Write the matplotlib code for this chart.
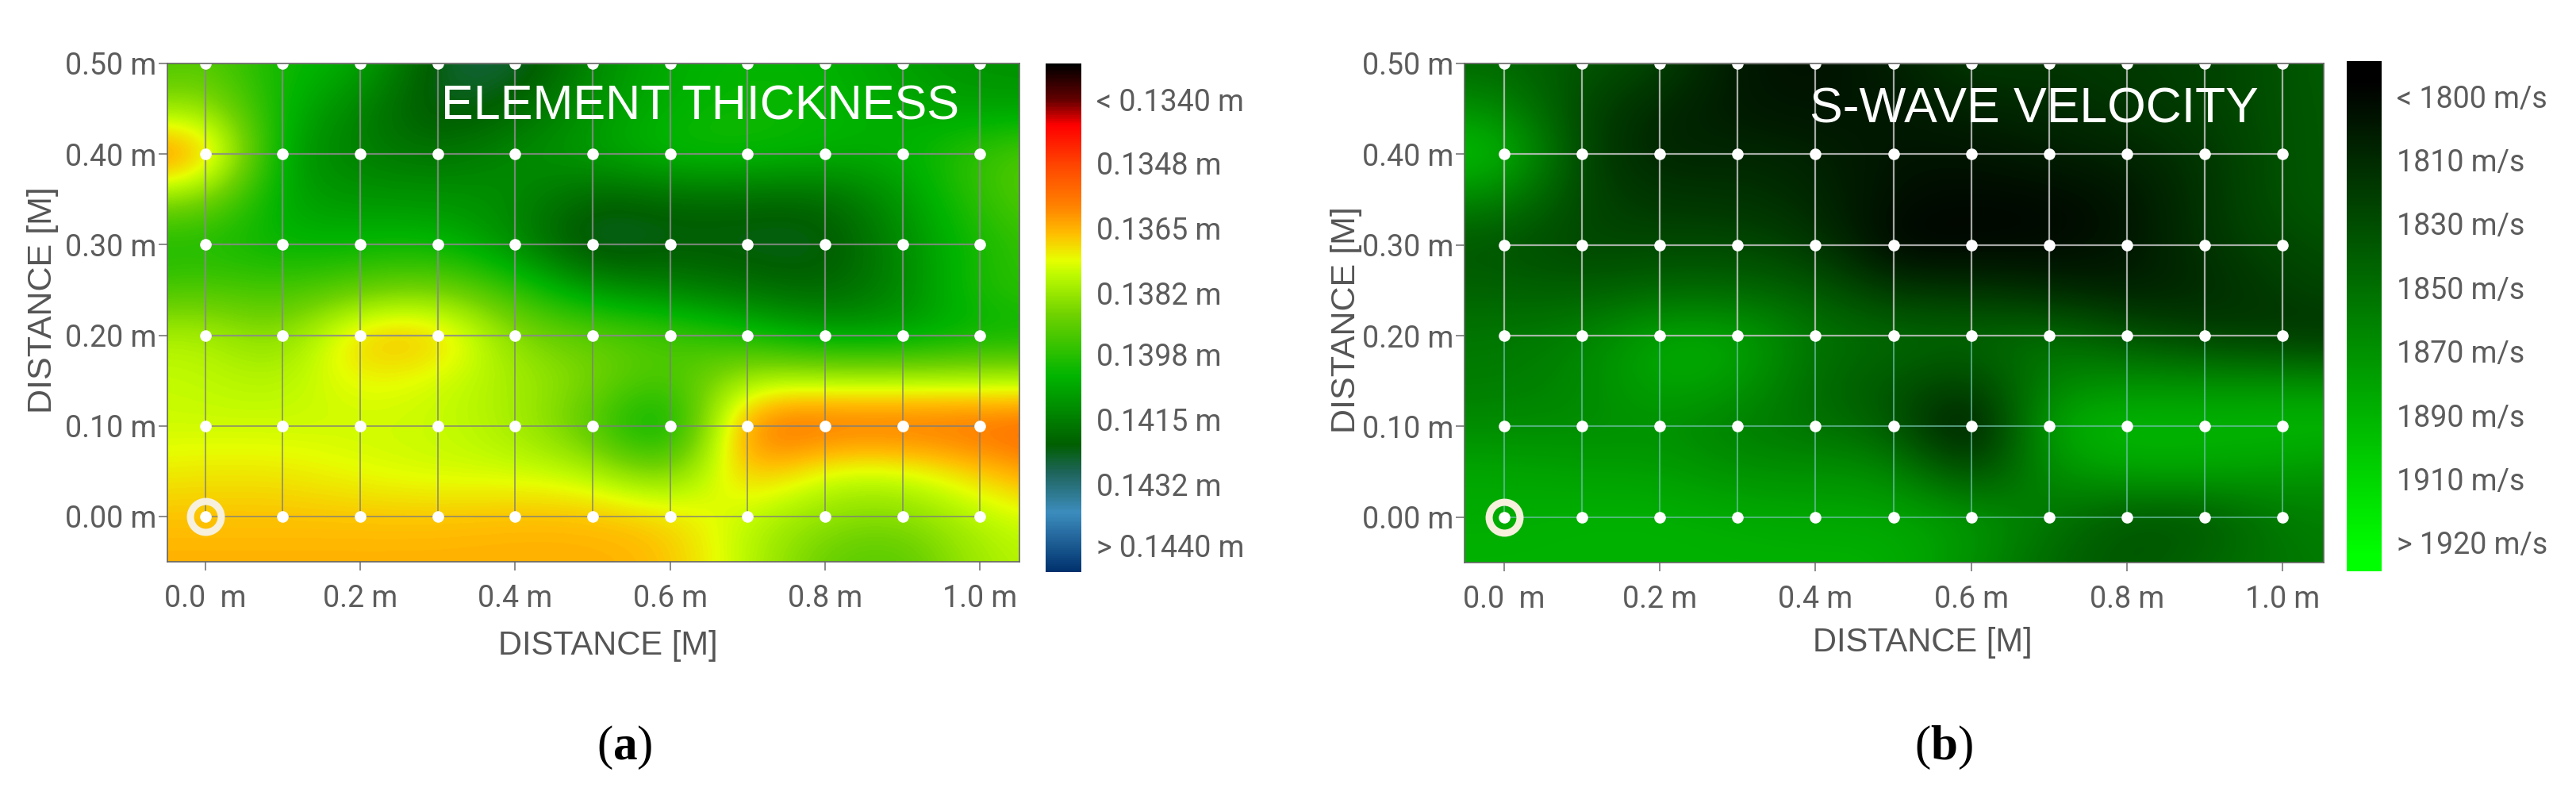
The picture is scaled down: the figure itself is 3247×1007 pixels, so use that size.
"""
Element thickness and S-wave velocity maps over the measuring grid.
"""
import numpy as np
import matplotlib
matplotlib.use('Agg')
import matplotlib.pyplot as plt
from matplotlib.colors import LinearSegmentedColormap

W, H = 3247, 1007
plt.rcParams['font.family'] = ['Roboto', 'DejaVu Sans']
plt.rcParams['mathtext.fontset'] = 'custom'
plt.rcParams['mathtext.rm'] = 'Liberation Serif'
plt.rcParams['mathtext.bf'] = 'Liberation Serif:bold'

grid_x = [0.0, 0.1, 0.2, 0.3, 0.4, 0.5, 0.6, 0.7, 0.8, 0.9, 1.0]
grid_y = [0.0, 0.1, 0.2, 0.3, 0.4, 0.5]
x_ticks = [0.0, 0.2, 0.4, 0.6, 0.8, 1.0]
x_labels = ['0.0  m', '0.2 m', '0.4 m', '0.6 m', '0.8 m', '1.0 m']
y_labels = ['0.00 m', '0.10 m', '0.20 m', '0.30 m', '0.40 m', '0.50 m']

# rows run y = 0.50 down to -0.05 in 0.05 steps, columns x = -0.1 to 1.1 in 0.1 steps
thickness = [
    [.1396, .1390, .1403, .1404, .1426, .1428, .1412, .1405, .1403, .1404, .1408, .1411, .1411],
    [.1385, .1380, .1404, .1414, .1426, .1420, .1410, .1404, .1402, .1403, .1406, .1408, .1408],
    [.1355, .1358, .1410, .1415, .1418, .1412, .1408, .1401, .1401, .1404, .1405, .1395, .1390],
    [.1385, .1385, .1408, .1410, .1410, .1412, .1422, .1420, .1420, .1421, .1410, .1396, .1390],
    [.1402, .1400, .1404, .1403, .1402, .1412, .1429, .1423, .1424, .1425, .1412, .1400, .1395],
    [.1395, .1392, .1395, .1390, .1386, .1396, .1410, .1414, .1418, .1421, .1414, .1398, .1397],
    [.1380, .1378, .1388, .1364, .1364, .1386, .1390, .1393, .1400, .1408, .1408, .1404, .1404],
    [.1376, .1377, .1379, .1372, .1376, .1380, .1386, .1396, .1378, .1378, .1378, .1378, .1378],
    [.1376, .1376, .1376, .1376, .1376, .1380, .1392, .1414, .1353, .1354, .1354, .1354, .1352],
    [.1372, .1371, .1371, .1374, .1376, .1376, .1378, .1392, .1362, .1376, .1376, .1368, .1360],
    [.1367, .1367, .1367, .1367, .1367, .1366, .1366, .1368, .1378, .1384, .1386, .1378, .1374],
    [.1365, .1365, .1365, .1365, .1365, .1365, .1365, .1366, .1378, .1390, .1393, .1380, .1378],
]
velocity = [
    [1846, 1846, 1836, 1826, 1798, 1795, 1803, 1820, 1816, 1820, 1822, 1834, 1843],
    [1872, 1868, 1825, 1808, 1800, 1797, 1800, 1806, 1809, 1816, 1822, 1834, 1840],
    [1900, 1900, 1822, 1806, 1809, 1806, 1797, 1797, 1803, 1806, 1816, 1834, 1840],
    [1864, 1862, 1825, 1816, 1816, 1809, 1794, 1791, 1791, 1797, 1816, 1834, 1840],
    [1836, 1834, 1825, 1828, 1828, 1819, 1786, 1789, 1791, 1797, 1816, 1828, 1832],
    [1843, 1843, 1840, 1846, 1846, 1840, 1816, 1816, 1809, 1803, 1809, 1822, 1828],
    [1855, 1855, 1861, 1885, 1885, 1852, 1849, 1846, 1852, 1834, 1822, 1816, 1812],
    [1858, 1858, 1864, 1885, 1879, 1846, 1837, 1822, 1864, 1870, 1870, 1870, 1870],
    [1867, 1867, 1867, 1870, 1858, 1852, 1840, 1782, 1889, 1895, 1892, 1895, 1895],
    [1883, 1883, 1879, 1879, 1870, 1870, 1870, 1822, 1870, 1883, 1883, 1876, 1870],
    [1886, 1886, 1889, 1889, 1886, 1883, 1883, 1876, 1855, 1834, 1834, 1858, 1861],
    [1889, 1889, 1889, 1889, 1889, 1889, 1889, 1870, 1846, 1834, 1846, 1855, 1858],
]

thick_ticks = [.13315, .1348, .1365, .1382, .1398, .1415, .1432, .1448]
thick_labels = ['< 0.1340 m', '0.1348 m', '0.1365 m', '0.1382 m', '0.1398 m', '0.1415 m', '0.1432 m', '> 0.1440 m']
vel_ticks = [1790, 1810, 1830, 1850, 1870, 1890, 1910, 1930]
vel_labels = ['< 1800 m/s', '1810 m/s', '1830 m/s', '1850 m/s', '1870 m/s', '1890 m/s', '1910 m/s', '> 1920 m/s']

thick_stops = [(0, (0, 0, 0)), (.07, (100, 0, 0)), (.12, (255, 0, 0)), (.2, (255, 70, 0)),
               (.28, (255, 130, 0)), (.335, (255, 190, 0)), (.387, (230, 255, 0)),
               (.415, (190, 250, 0)), (.495, (110, 210, 0)), (.615, (0, 180, 0)),
               (.75, (0, 95, 0)), (.805, (30, 100, 90)), (.885, (60, 140, 190)), (1, (0, 50, 110))]
vel_stops = [(0, (0, 0, 0)), (.04, (0, 0, 0)), (.97, (0, 255, 0)), (1, (0, 255, 0))]


def make_cmap(name, stops):
    return LinearSegmentedColormap.from_list(name, [(p, np.array(c) / 255) for p, c in stops])


def px_axes(fig, l, t, r, b):
    return fig.add_axes([l / W, 1 - b / H, (r - l) / W, (b - t) / H])


def panel(fig, box, cbox, data, cmap, vmin, vmax, xlim, ticks, labels, title, title_pos, title_size,
          xlab_pos, ylab_pos, line_col, low_col, letter, letter_x):
    ax = px_axes(fig, *box)
    im = ax.imshow(np.array(data)[::-1], origin='lower', extent=[-0.15, 1.15, -0.075, 0.525],
                   cmap=cmap, vmin=vmin, vmax=vmax, aspect='auto',
                   interpolation='bicubic', interpolation_stage='data')
    # the lines read paler above y = 0.2 than below it
    for gx in grid_x:
        ax.plot([gx, gx], [grid_y[2], grid_y[-1]], color=line_col, lw=1.6, alpha=0.85)
        ax.plot([gx, gx], [grid_y[0], grid_y[2]], color=low_col, lw=1.2, alpha=0.85)
    for gy in grid_y:
        col = line_col if gy >= grid_y[2] else low_col
        ax.plot([grid_x[0], grid_x[-1]], [gy, gy], color=col, lw=1.6 if gy >= grid_y[2] else 1.2, alpha=0.85)
    gx, gy = np.meshgrid(grid_x, grid_y)
    ax.plot(gx.ravel(), gy.ravel(), 'o', color='white', ms=10.5, mew=0)
    ax.plot([0], [0], 'o', mfc='none', mec='#f6f0dc', ms=28, mew=6.5)
    ax.set_xlim(xlim)
    ax.set_ylim(-0.05, 0.5)
    ax.set_xticks(x_ticks, x_labels)
    ax.set_yticks(grid_y, y_labels)
    ax.tick_params(length=8, width=1.2, color='#777777', labelcolor='#5c5c5c', labelsize=27, pad=2)
    ax.tick_params(axis='x', pad=12)
    for s in ax.spines.values():
        s.set_color('#666666')
        s.set_linewidth(1.2)

    cax = px_axes(fig, *cbox)
    cb = fig.colorbar(im, cax=cax)
    cax.invert_yaxis()
    cb.set_ticks(ticks, labels=labels)
    cb.outline.set_visible(False)
    cax.tick_params(length=0, labelcolor='#5c5c5c', labelsize=27, pad=14)

    fig.text(title_pos[0] / W, 1 - title_pos[1] / H, title, color='white', fontsize=title_size,
             family='Liberation Sans', va='center', ha='left')
    fig.text(xlab_pos[0] / W, 1 - xlab_pos[1] / H, 'DISTANCE [M]', color='#555555', fontsize=30,
             family='Liberation Sans', va='center', ha='center')
    fig.text(ylab_pos[0] / W, 1 - ylab_pos[1] / H, 'DISTANCE [M]', color='#555555', fontsize=31,
             family='Liberation Sans', va='center', ha='center', rotation=90)
    fig.text(letter_x / W, 1 - 942 / H, '($\\mathbf{' + letter + '}$)', color='black', fontsize=44,
             family='Liberation Serif', va='center', ha='center')


fig = plt.figure(figsize=(W / 100, H / 100), dpi=100)
panel(fig, (211, 80, 1285, 708), (1318, 80, 1363, 721), thickness,
      make_cmap('thick', thick_stops), 0.1322, 0.1455, (-0.049, 1.051), thick_ticks, thick_labels,
      'ELEMENT THICKNESS', (556, 135), 44, (766, 814), (54, 378), '#8a8a8a', '#7d7d7d', 'a', 787)
panel(fig, (1846, 80, 2929, 709), (2958, 77, 3002, 720), velocity,
      make_cmap('vel', vel_stops), 1779, 1939, (-0.051, 1.053), vel_ticks, vel_labels,
      'S-WAVE VELOCITY', (2281, 138), 45, (2423, 810), (1697, 403), '#c4c4c4', '#6fc0a8', 'b', 2450)
fig.savefig('out.png', dpi=100)
